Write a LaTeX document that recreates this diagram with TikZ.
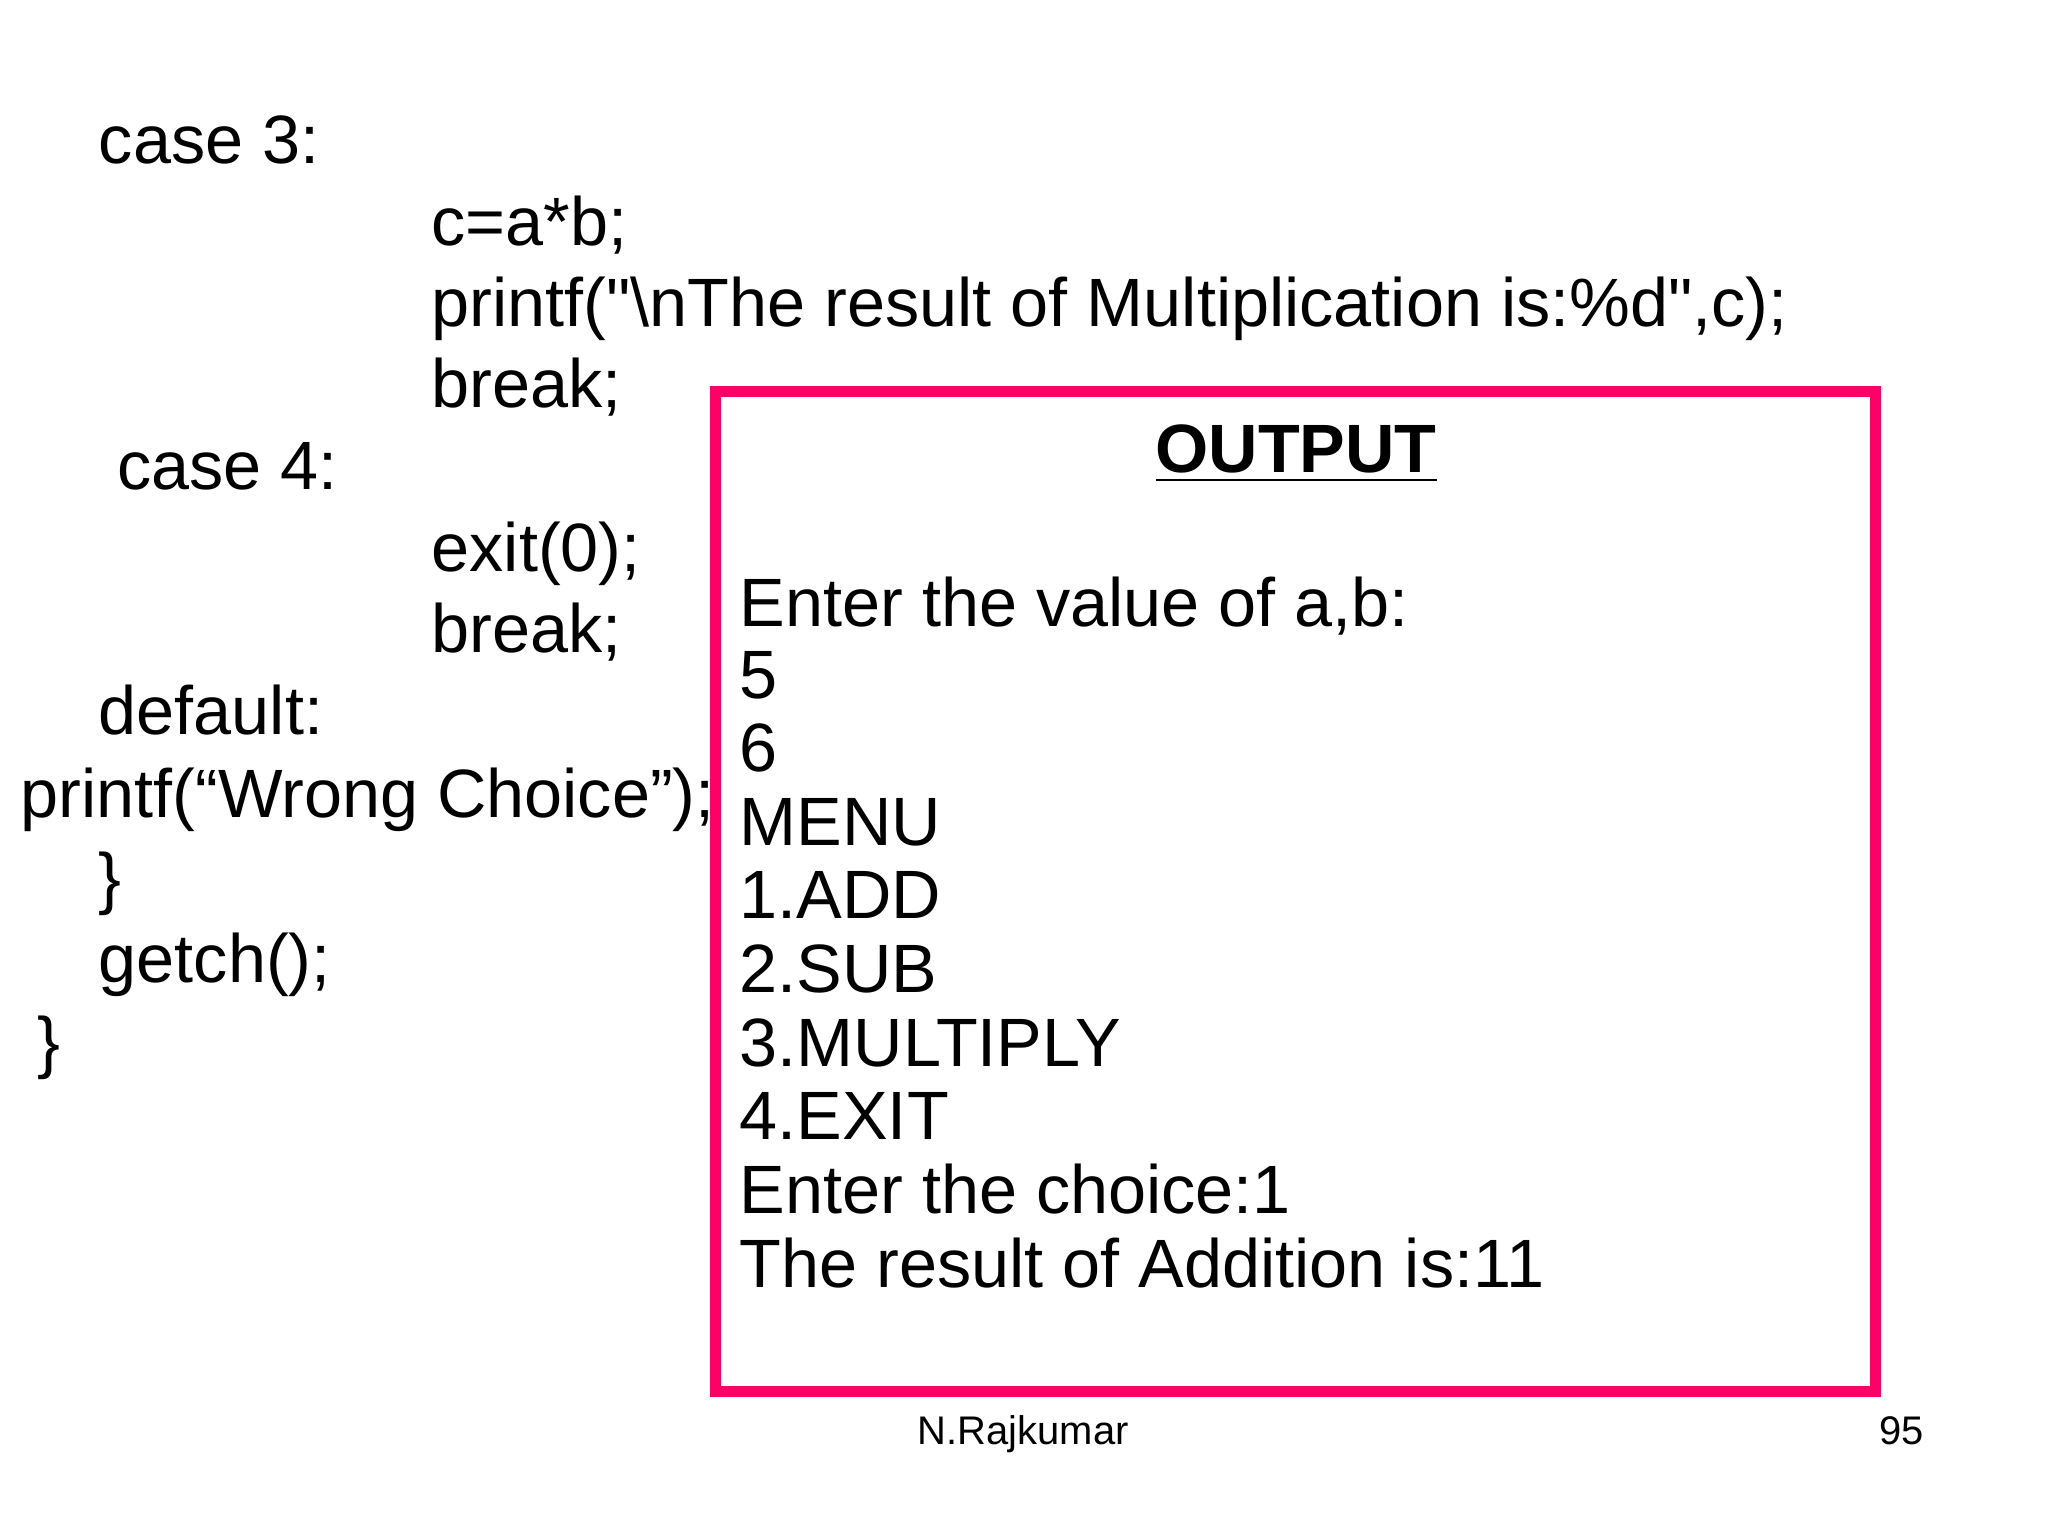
\documentclass[tikz,border=0pt]{standalone}
\usepackage{fontspec}
\setmainfont{Liberation Sans}
\definecolor{boxpink}{rgb}{1.0, 0.0, 0.4}
\tikzset{code/.style={anchor=base west, inner sep=0pt, font=\fontsize{14.9pt}{18pt}\selectfont},
         foot/.style={anchor=base, inner sep=0pt, font=\fontsize{8.7pt}{10pt}\selectfont}}
\begin{document}
\begin{tikzpicture}[x=0.01cm,y=-0.01cm]
\useasboundingbox (0,0) rectangle (1569,1177);
% code on the left
\node[code] (c3) at (75,125) {case 3:};
\node[code] (mul) at (330,188) {c=a*b;};
\node[code] (pr3) at (330,250) {printf(\textquotedbl\textbackslash nThe result of Multiplication is:\%d\textquotedbl,c);};
\node[code] (br3) at (330,312) {break;};
\node[code] (c4) at (89,375) {case 4:};
\node[code] (ex) at (330,438) {exit(0);};
\node[code] (br4) at (330,500) {break;};
\node[code] (df) at (75,563) {default:};
\node[code] (prw) at (15,626) {printf(“Wrong Choice”);};
\node[code] (cl1) at (75,691) {\}};
\node[code] (gc) at (75,753) {getch();};
\node[code] (cl2) at (28,816) {\}};
% output box
\draw[boxpink, line width=0.08cm] (548,300) rectangle (1437,1066);
\node[code, anchor=base] (out) at (993,362) {\textbf{\underline{OUTPUT}}};
\node[code] (o1) at (566,480) {Enter the value of a,b:};
\node[code] (o2) at (566,535) {5};
\node[code] (o3) at (566,591) {6};
\node[code] (o4) at (566,648) {MENU};
\node[code] (o5) at (566,704) {1.ADD};
\node[code] (o6) at (566,760) {2.SUB};
\node[code] (o7) at (566,817) {3.MULTIPLY};
\node[code] (o8) at (566,873) {4.EXIT};
\node[code] (o9) at (566,930) {Enter the choice:1};
\node[code] (o10) at (566,986) {The result of Addition is:11};
% footer
\node[foot] (auth) at (784,1107) {N.Rajkumar};
\node[foot] (pg) at (1457,1107) {95};
\end{tikzpicture}
\end{document}
